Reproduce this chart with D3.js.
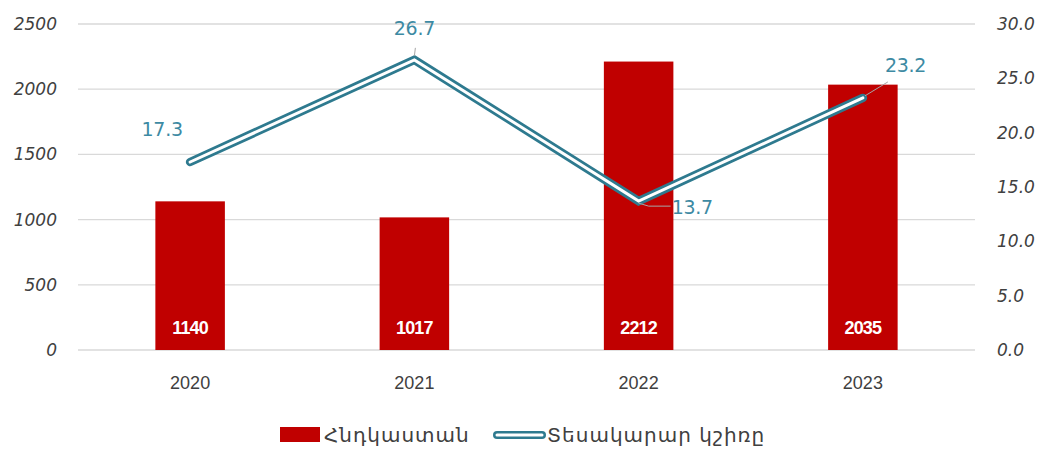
<!DOCTYPE html>
<html>
<head>
<meta charset="utf-8">
<script src="https://cdn.jsdelivr.net/npm/d3@7"></script>
<style>
  body { margin: 0; background: #fff; }
  svg { font-family: "Liberation Sans Narrow", "Liberation Sans", sans-serif; }
</style>
</head>
<body>
<script>
const years = ["2020", "2021", "2022", "2023"];
const countValues = [1140, 1017, 2212, 2035];
const shareValues = [17.3, 26.7, 13.7, 23.2];
const leftTicks = [0, 500, 1000, 1500, 2000, 2500];
const rightTicks = [0, 5, 10, 15, 20, 25, 30];
const seriesNames = ["Հնդկաստան", "Տեսակարար կշիռը"];

const width = 1049, height = 450;
const margin = {top: 24, right: 74, bottom: 100, left: 78};
const red = "#c00000", teal = "#2e7a8f", labelBlue = "#3d8aa3";

const svg = d3.select("body").append("svg")
    .attr("width", width)
    .attr("height", height);

const x = d3.scaleBand()
    .domain(years)
    .range([margin.left, width - margin.right])
    .paddingInner(0.69)
    .paddingOuter(0.345);

const y = d3.scaleLinear()
    .domain([0, 2500])
    .range([height - margin.bottom, margin.top]);

const y2 = d3.scaleLinear()
    .domain([0, 30])
    .range([height - margin.bottom, margin.top]);

// gridlines
svg.append("g")
  .selectAll("line")
  .data(leftTicks)
  .join("line")
    .attr("x1", margin.left)
    .attr("x2", width - margin.right)
    .attr("y1", d => y(d))
    .attr("y2", d => y(d))
    .attr("stroke", "#d9d9d9")
    .attr("stroke-width", 1.3);

// left axis labels
svg.append("g")
  .selectAll("text")
  .data(leftTicks)
  .join("text")
    .attr("x", 57)
    .attr("y", d => y(d))
    .attr("dy", "0.35em")
    .attr("text-anchor", "end")
    .attr("font-family", "DejaVu Sans, sans-serif")
    .attr("font-style", "italic")
    .attr("font-size", 17)
    .attr("fill", "#404040")
    .text(d => d);

// right axis labels
svg.append("g")
  .selectAll("text")
  .data(rightTicks)
  .join("text")
    .attr("x", 997)
    .attr("y", d => y2(d))
    .attr("dy", "0.35em")
    .attr("text-anchor", "start")
    .attr("font-family", "DejaVu Sans, sans-serif")
    .attr("font-style", "italic")
    .attr("font-size", 17)
    .attr("fill", "#404040")
    .text(d => d.toFixed(1));

// x labels
svg.append("g")
  .selectAll("text")
  .data(years)
  .join("text")
    .attr("x", d => x(d) + x.bandwidth() / 2)
    .attr("y", 389)
    .attr("text-anchor", "middle")
    .attr("font-size", 18)
    .attr("fill", "#404040")
    .text(d => d);

// bars
svg.append("g")
  .selectAll("rect")
  .data(countValues)
  .join("rect")
    .attr("x", (d, i) => x(years[i]))
    .attr("y", d => y(d))
    .attr("width", x.bandwidth())
    .attr("height", d => y(0) - y(d))
    .attr("fill", red);

svg.append("g")
  .selectAll("text")
  .data(countValues)
  .join("text")
    .attr("x", (d, i) => x(years[i]) + x.bandwidth() / 2)
    .attr("y", 334)
    .attr("text-anchor", "middle")
    .attr("font-size", 18)
    .attr("font-weight", "bold")
    .attr("letter-spacing", -0.8)
    .attr("fill", "#fff")
    .text(d => d);

// double line
const line = d3.line()
    .x((d, i) => x(years[i]) + x.bandwidth() / 2)
    .y(d => y2(d));

svg.append("path")
    .datum(shareValues)
    .attr("d", line)
    .attr("fill", "none")
    .attr("stroke", teal)
    .attr("stroke-width", 8.5)
    .attr("stroke-linejoin", "miter")
    .attr("stroke-linecap", "round");

svg.append("path")
    .datum(shareValues)
    .attr("d", line)
    .attr("fill", "none")
    .attr("stroke", "#fff")
    .attr("stroke-width", 3)
    .attr("stroke-linejoin", "miter")
    .attr("stroke-linecap", "round");

// line labels: offsets relative to points, with leader lines for some
const labelOffsets = [
  {dx: -28, dy: -26, anchor: "middle"},
  {dx: 0, dy: -25, anchor: "middle"},
  {dx: 33, dy: 13, anchor: "start"},
  {dx: 22, dy: -26, anchor: "start"}
];

const lbl = svg.append("g");
shareValues.forEach((v, i) => {
  const px = x(years[i]) + x.bandwidth() / 2, py = y2(v);
  const o = labelOffsets[i];
  if (i === 1) {
    lbl.append("line")
      .attr("x1", px).attr("y1", py - 4).attr("x2", px + 1).attr("y2", py - 12)
      .attr("stroke", "#a6a6a6").attr("stroke-width", 1);
  }
  if (i === 2) {
    lbl.append("polyline")
      .attr("points", `${px},${py + 2} ${px + 10},${py + 5} ${px + 32},${py + 5}`)
      .attr("fill", "none").attr("stroke", "#a6a6a6").attr("stroke-width", 1);
  }
  if (i === 3) {
    lbl.append("line")
      .attr("x1", px + 2).attr("y1", py - 2).attr("x2", px + 25).attr("y2", py - 16)
      .attr("stroke", "#a6a6a6").attr("stroke-width", 1);
  }
  lbl.append("text")
    .attr("x", px + o.dx)
    .attr("y", py + o.dy)
    .attr("text-anchor", o.anchor)
    .attr("font-family", "DejaVu Sans, sans-serif")
    .attr("font-size", 19)
    .attr("fill", labelBlue)
    .attr("letter-spacing", -0.3)
    .text(v.toFixed(1));
});

// legend
const leg = svg.append("g");
leg.append("rect")
    .attr("x", 280).attr("y", 427)
    .attr("width", 40).attr("height", 15)
    .attr("fill", red);
leg.append("text")
    .attr("x", 324).attr("y", 442)
    .attr("font-family", "DejaVu Sans, sans-serif")
    .attr("font-size", 20)
    .attr("letter-spacing", 1)
    .attr("fill", "#404040")
    .text(seriesNames[0]);
leg.append("line")
    .attr("x1", 497).attr("x2", 542).attr("y1", 435).attr("y2", 435)
    .attr("stroke", teal).attr("stroke-width", 8).attr("stroke-linecap", "round");
leg.append("line")
    .attr("x1", 497).attr("x2", 542).attr("y1", 435).attr("y2", 435)
    .attr("stroke", "#fff").attr("stroke-width", 3).attr("stroke-linecap", "round");
leg.append("text")
    .attr("x", 547).attr("y", 442)
    .attr("font-family", "DejaVu Sans, sans-serif")
    .attr("font-size", 20)
    .attr("letter-spacing", 1)
    .attr("fill", "#404040")
    .text(seriesNames[1]);
</script>
</body>
</html>
